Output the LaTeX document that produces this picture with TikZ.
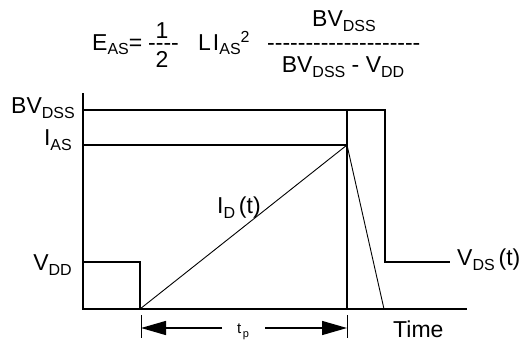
\documentclass[tikz,border=0pt]{standalone}
\usepackage{fontspec}
\setmainfont[Ligatures=TeXOff]{Liberation Sans}
\usetikzlibrary{arrows.meta}
\newcommand{\sbs}[1]{\raisebox{-5pt}{\fontsize{16}{16}\selectfont #1}}
\newcommand{\sps}[1]{\raisebox{8pt}{\fontsize{16}{16}\selectfont #1}}

\tikzset{
  lab/.style={inner sep=0pt, font=\fontsize{23}{26}\selectfont},
  small lab/.style={inner sep=0pt, font=\fontsize{15}{17}\selectfont},
  axisline/.style={line width=2.8pt},
  wave/.style={line width=2.2pt, line join=miter},
  level/.style={line width=1.4pt},
  slope/.style={line width=0.9pt},
  tick/.style={line width=0.9pt},
  dim/.style={line width=1.4pt, -{Triangle[length=25pt,width=14pt]}},
}

\begin{document}
\begin{tikzpicture}[x=1pt,y=-1pt]
    \useasboundingbox (0,0) rectangle (529,345);

    % formula
    \node (eas) [lab, anchor=base west] at (92,50) {E\sbs{AS}=};
    \node (half_bar) [lab, anchor=base west] at (148,50) {----};
    \node (one) [lab, anchor=base] at (162,39) {1};
    \node (two) [lab, anchor=base] at (162,67) {2};
    \node (l_ias) [lab, anchor=base west] at (198,50) {L\kern2pt I\sbs{AS}\sps{2}};
    \node (frac_bar) [lab, anchor=base west] at (267,50) {--------------------};
    \node (num) [lab, anchor=base] at (344,27) {BV\sbs{DSS}};
    \node (den) [lab, anchor=base] at (343,72) {BV\sbs{DSS} - V\sbs{DD}};

    % axes
    \coordinate (orig) at (83,309);
    \coordinate (ytop) at (83,93);
    \coordinate (xend) at (467,309);
    \draw[axisline] (ytop) -- (orig) -- (xend);

    % level labels
    \node (bv_lab) [lab, anchor=base east] at (75,113) {BV\sbs{DSS}};
    \node (ias_lab) [lab, anchor=base east] at (72,145) {I\sbs{AS}};
    \node (vdd_lab) [lab, anchor=base east] at (72,270) {V\sbs{DD}};

    % waveform points
    \coordinate (bv_l) at (83,110);
    \coordinate (ias_l) at (83,145);
    \coordinate (vdd_l) at (83,262);
    \coordinate (vdd_r) at (140,262);
    \coordinate (off) at (140,309);
    \coordinate (pk) at (347,145);
    \coordinate (rect_bl) at (347,309);
    \coordinate (rect_tl) at (347,110);
    \coordinate (rect_tr) at (385,110);
    \coordinate (rect_r) at (385,262);
    \coordinate (vds_end) at (450,262);
    \coordinate (fall) at (384,309);

    \draw[level] (bv_l) -- (rect_tl);
    \draw[level] (ias_l) -- (pk);
    \draw[wave] (vdd_l) -- (vdd_r) -- (off);
    \draw[wave] (rect_bl) -- (rect_tl) -- (rect_tr) -- (rect_r) -- (vds_end);
    \draw[slope] (off) -- (pk) -- (fall);

    \node (id_lab) [lab, anchor=base west] at (217,213) {I\sbs{D}\,(t)};
    \node (vds_lab) [lab, anchor=base west] at (457,265) {V\sbs{DS}\,(t)};
    \node (time_lab) [lab, anchor=base west] at (393,337) {Time};

    % pulse width
    \coordinate (tick_a1) at (141,315);
    \coordinate (tick_a2) at (141,338);
    \coordinate (tick_b1) at (347,315);
    \coordinate (tick_b2) at (347,338);
    \coordinate (arr_a) at (141,328);
    \coordinate (arr_b) at (347,328);
    \draw[tick] (tick_a1) -- (tick_a2);
    \draw[tick] (tick_b1) -- (tick_b2);
    \node (tp_lab) [small lab, anchor=base] at (243,333) {t\kern1.5pt\raisebox{-4pt}{\fontsize{11}{11}\selectfont p}};
    \coordinate (arr_a0) at (222,328);
    \coordinate (arr_b0) at (265,328);
    \path(arr_a0) edge[dim] (arr_a);
    \path(arr_b0) edge[dim] (arr_b);
\end{tikzpicture}
\end{document}
